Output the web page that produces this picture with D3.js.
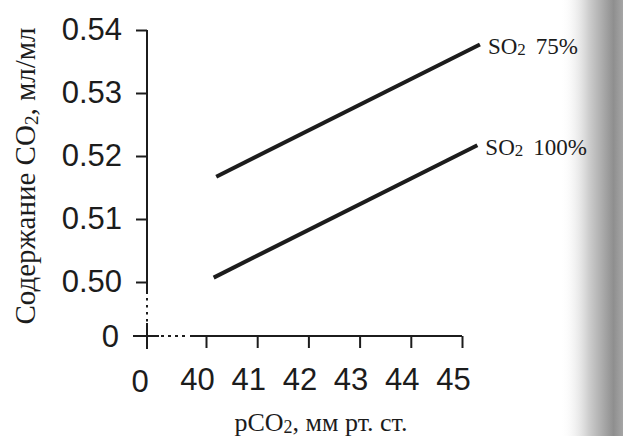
<!DOCTYPE html>
<html>
<head>
<meta charset="utf-8">
<script src="https://cdn.jsdelivr.net/npm/d3@7"></script>
<style>
  body { margin: 0; background: #fff; }
  svg { display: block; }
</style>
</head>
<body>
<div id="chart"></div>
<script>
// data
var xTicks = [40, 41, 42, 43, 44, 45];
var yTicks = [0.50, 0.51, 0.52, 0.53, 0.54];
var seriesNames = ['75%', '100%'];
var pco2_75 = [40.2, 45.35];
var co2_75 = [0.5167, 0.5377];
var pco2_100 = [40.15, 45.3];
var co2_100 = [0.5007, 0.5217];

var W = 623, H = 436;
var axX = 147, axY = 336;   // where the broken axes cross ("0")
var ink = '#1c1c1c';

var svg = d3.select('#chart').append('svg')
  .attr('width', W)
  .attr('height', H);

// page shadow on the right edge
var grad = svg.append('defs').append('linearGradient')
  .attr('id', 'shade').attr('x1', 0).attr('x2', 1).attr('y1', 0).attr('y2', 0);
grad.append('stop').attr('offset', 0).attr('stop-color', '#fff').attr('stop-opacity', 0);
grad.append('stop').attr('offset', 0.45).attr('stop-color', '#cfcfcf');
grad.append('stop').attr('offset', 0.85).attr('stop-color', '#8f8f8f');
grad.append('stop').attr('offset', 1).attr('stop-color', '#a5a5a5');
svg.append('rect').attr('x', 560).attr('y', 0).attr('width', 63).attr('height', H)
  .attr('fill', 'url(#shade)');

var x = d3.scaleLinear().domain([40, 45]).range([206, 462]);
var y = d3.scaleLinear().domain([0.50, 0.54]).range([282, 30]);

// y axis
var yAxis = svg.append('g')
  .attr('transform', 'translate(' + axX + ',0)')
  .call(d3.axisLeft(y).tickValues(yTicks).tickFormat(d3.format('.2f'))
    .tickSize(11).tickPadding(14).tickSizeOuter(0));
yAxis.select('.domain').remove();

// x axis
var xAxis = svg.append('g')
  .attr('transform', 'translate(0,' + axY + ')')
  .call(d3.axisBottom(x).tickValues(xTicks).tickFormat(d3.format('d'))
    .tickSize(12).tickPadding(20).tickSizeOuter(0));
xAxis.select('.domain').remove();
xAxis.selectAll('.tick text').attr('dx', -9);

svg.selectAll('.tick line').attr('stroke', ink).attr('stroke-width', 2);
svg.selectAll('.tick text')
  .attr('fill', ink)
  .style('font-family', '"Liberation Sans", Arial, sans-serif')
  .style('font-size', '31px');

// axis lines, solid part, dotted break and the zero cross
var axisLines = svg.append('g').attr('stroke', ink).attr('stroke-width', 2);
axisLines.append('line').attr('x1', axX).attr('x2', axX).attr('y1', y(0.54)).attr('y2', 294);
axisLines.append('line').attr('x1', axX).attr('x2', axX).attr('y1', 298).attr('y2', 322)
  .attr('stroke-dasharray', '2.5,4.5');
axisLines.append('line').attr('x1', axX).attr('x2', axX).attr('y1', 323).attr('y2', 349);
axisLines.append('line').attr('x1', axX - 14).attr('x2', axX + 12).attr('y1', axY).attr('y2', axY);
axisLines.append('line').attr('x1', axX + 14).attr('x2', 188).attr('y1', axY).attr('y2', axY)
  .attr('stroke-dasharray', '3,4');
axisLines.append('line').attr('x1', 190).attr('x2', x(45)).attr('y1', axY).attr('y2', axY);

// zero labels
svg.append('text').attr('x', axX - 28).attr('y', axY).attr('dy', '0.35em')
  .attr('text-anchor', 'end').attr('fill', ink)
  .style('font-family', '"Liberation Sans", Arial, sans-serif').style('font-size', '31px')
  .text('0');
svg.append('text').attr('x', axX - 7).attr('y', 392)
  .attr('text-anchor', 'middle').attr('fill', ink)
  .style('font-family', '"Liberation Sans", Arial, sans-serif').style('font-size', '31px')
  .text('0');

// axis titles
var yTitle = svg.append('text')
  .attr('transform', 'translate(35,176) rotate(-90)')
  .attr('text-anchor', 'middle').attr('fill', ink)
  .style('font-family', '"Liberation Serif", "Times New Roman", serif').style('font-size', '29px');
yTitle.append('tspan').text('Содержание CO');
yTitle.append('tspan').attr('font-size', '19px').attr('dy', 3).text('2');
yTitle.append('tspan').attr('dy', -3).text(', мл/мл');

var xTitle = svg.append('text')
  .attr('x', 321).attr('y', 431)
  .attr('text-anchor', 'middle').attr('fill', ink)
  .style('font-family', '"Liberation Serif", "Times New Roman", serif').style('font-size', '26px');
xTitle.append('tspan').text('pCO');
xTitle.append('tspan').attr('font-size', '18px').attr('dy', 2).text('2');
xTitle.append('tspan').attr('dy', -2).text(', мм рт. ст.');

// the two lines
var lines = [
  { name: seriesNames[0], pts: pco2_75.map(function(d, i) { return [d, co2_75[i]]; }) },
  { name: seriesNames[1], pts: pco2_100.map(function(d, i) { return [d, co2_100[i]]; }) }
];

var line = d3.line()
  .x(function(d) { return x(d[0]); })
  .y(function(d) { return y(d[1]); });

svg.selectAll('path.series')
  .data(lines)
  .enter()
  .append('path')
  .attr('class', 'series')
  .attr('d', function(d) { return line(d.pts); })
  .attr('fill', 'none')
  .attr('stroke', ink)
  .attr('stroke-width', 4);

var labels = svg.selectAll('text.series')
  .data(lines)
  .enter()
  .append('text')
  .attr('class', 'series')
  .attr('x', function(d) { return x(d.pts[1][0]) + 8; })
  .attr('y', function(d) { return y(d.pts[1][1]) + 10; })
  .attr('fill', ink)
  .style('font-family', '"Liberation Serif", "Times New Roman", serif')
  .style('font-size', '23px');
labels.append('tspan').text('SO');
labels.append('tspan').attr('font-size', '17px').attr('dy', 1).text('2');
labels.append('tspan').attr('dy', -1).attr('dx', 10).text(function(d) { return d.name; });
</script>
</body>
</html>
